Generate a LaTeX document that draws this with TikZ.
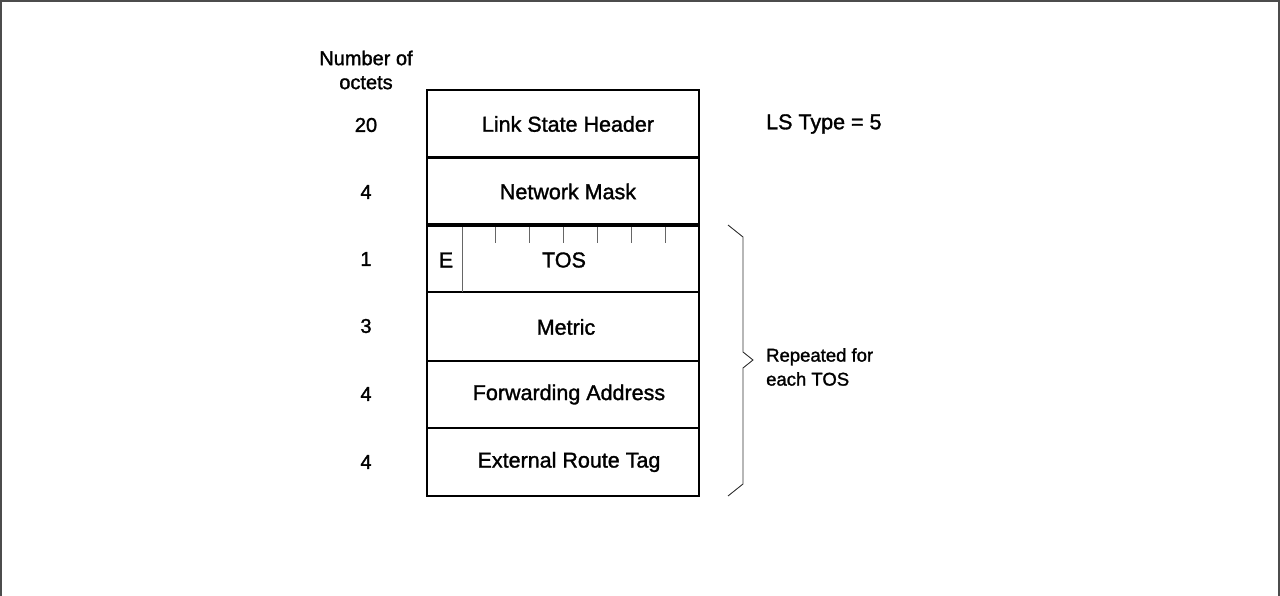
\documentclass[tikz,border=0pt]{standalone}
\usepackage{fontspec}
\setmainfont{Liberation Sans}[FakeBold=1.4]
\begin{document}
\begin{tikzpicture}[x=1pt,y=-1pt,
  frameline/.style={line width=2.2pt,draw=black!70},
  boxline/.style={line width=2pt,draw=black},
  thinline/.style={line width=0.9pt,draw=black!60},
  fieldtext/.style={font=\fontsize{21.5}{24}\selectfont,inner sep=0pt,anchor=center},
  numtext/.style={font=\fontsize{20}{24}\selectfont,inner sep=0pt,anchor=center,align=center},
  sidetext/.style={font=\fontsize{18.5}{24}\selectfont,inner sep=0pt,align=left}]
\useasboundingbox (0,0) rectangle (1280,596);
% outer frame (no bottom edge)
\draw[frameline] (1.1,597) -- (1.1,1.1) -- (1278.9,1.1) -- (1278.9,597);
% field box
\draw[boxline] (427,90) rectangle (699,496);
\draw[line width=3pt] (427,158) -- (699,158);
\draw[line width=4pt] (427,225) -- (699,225);
\draw[boxline] (427,292) -- (699,292);
\draw[boxline] (427,361) -- (699,361);
\draw[boxline] (427,428) -- (699,428);
% E / TOS bits
\draw[thinline] (462,227) -- (462,292);
\foreach \i in {1,...,6} {
  \draw[thinline] ({462+\i*33.857},227) -- ({462+\i*33.857},243);
}
% field labels
\node[fieldtext] (lsh) at (568,124) {Link State Header};
\node[fieldtext] (nm) at (568,191.5) {Network Mask};
\node[fieldtext] (e) at (446,260) {E};
\node[fieldtext] (tos) at (564,260) {TOS};
\node[fieldtext] (metric) at (566,327) {Metric};
\node[fieldtext] (fa) at (569,394.5) {Forwarding Address};
\node[fieldtext] (ert) at (569,462) {External Route Tag};
% octet counts
\node[numtext] (hdr) at (366,70) {Number of\\octets};
\node[numtext] (n1) at (366,125) {20};
\node[numtext] (n2) at (366,192) {4};
\node[numtext] (n3) at (366,259) {1};
\node[numtext] (n4) at (366,326) {3};
\node[numtext] (n5) at (366,394) {4};
\node[numtext] (n6) at (366,462) {4};
% side notes
\node[fieldtext,anchor=west] (lstype) at (766,124) {LS Type = 5};
\draw[thinline,draw=black!80] (728,225) -- (743,237) -- (743,352) -- (753,360) -- (743,368) -- (743,484) -- (728,496);
\node[sidetext,anchor=west] (rep) at (766,367) {Repeated for\\each TOS};
\end{tikzpicture}
\end{document}
